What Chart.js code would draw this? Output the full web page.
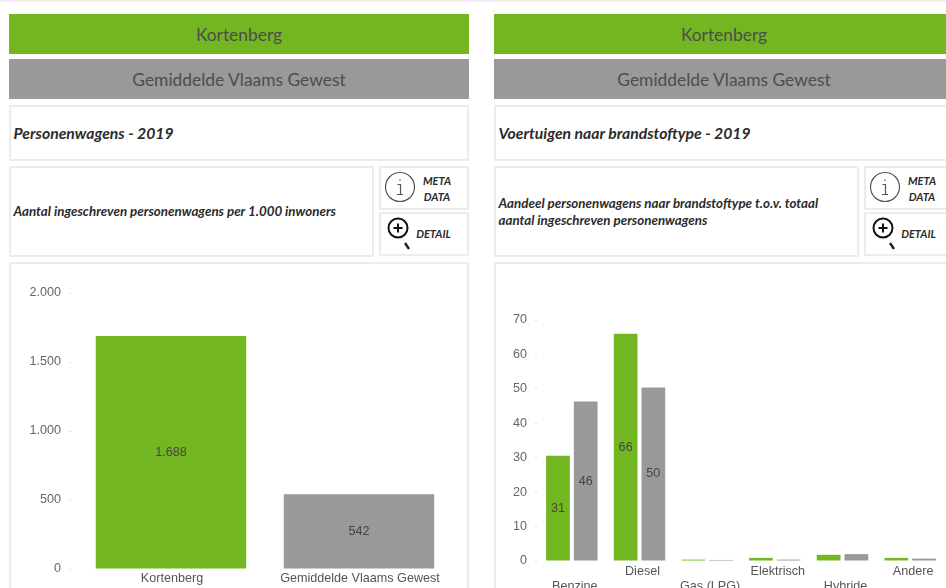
<!DOCTYPE html>
<html><head><meta charset="utf-8">
<script src="https://cdn.jsdelivr.net/npm/chart.js@4"></script>
<style>
html,body{margin:0;padding:0;width:946px;height:588px;overflow:hidden;background:#fff}
#top{position:absolute;left:0;top:0;width:946px;height:2px;background:#eee}
.b{position:absolute;box-sizing:border-box;font-family:Lato,"Open Sans",sans-serif}
.hdr{display:flex;align-items:center;justify-content:center;font-size:17.4px;color:#4d4d4d;height:40px}
.box{border:2px solid #ececec;background:#fff;color:#2b2b2b;font-style:italic;font-weight:700}
.ttl{display:flex;align-items:center;padding-left:2.5px;padding-bottom:2px;font-size:15.75px;height:56px;top:105px}
.dsc{display:flex;align-items:center;padding-left:2.5px;font-size:13.35px;line-height:17px;height:91px;top:166px;width:365px}
.m{font-size:11px;line-height:15.5px;text-align:center}
.m span{position:absolute;width:46px}
svg{position:absolute}
canvas{position:absolute}
</style></head><body>
<div id="top"></div>
<div class="b hdr" style="left:9px;top:14px;width:460px;background:#72b722">Kortenberg</div>
<div class="b hdr" style="left:9px;top:59px;width:460px;background:#999">Gemiddelde Vlaams Gewest</div>
<div class="b box ttl" style="left:9px;width:460px">Personenwagens - 2019</div>
<div class="b box dsc" style="left:9px">Aantal ingeschreven personenwagens per 1.000 inwoners</div>
<div class="b box m" style="left:379px;top:166px;width:90px;height:44px"><svg style="left:3px;top:3px" width="32" height="32"><circle cx="16" cy="16" r="14.5" fill="none" stroke="#555" stroke-width="1.2"/><path d="M16 8.5v1.6M13.5 13.5h3v10M13 23.5h6" fill="none" stroke="#555" stroke-width="1.2"/></svg><span style="left:33px;top:5px">META<br>DATA</span></div>
<div class="b box m" style="left:379px;top:212px;width:90px;height:44px"><svg style="left:5px;top:1px" width="28" height="38"><circle cx="12" cy="13" r="9.5" fill="none" stroke="#111" stroke-width="2"/><path d="M12 8.5v9M7.5 13h9" stroke="#111" stroke-width="2"/><path d="M19 28l4 6" stroke="#222" stroke-width="2.4"/></svg><span style="left:29.5px;top:12px">DETAIL</span></div>
<div class="b box" style="left:9px;top:262px;width:460px;height:340px"></div>
<div class="b hdr" style="left:494px;top:14px;width:460px;background:#72b722">Kortenberg</div>
<div class="b hdr" style="left:494px;top:59px;width:460px;background:#999">Gemiddelde Vlaams Gewest</div>
<div class="b box ttl" style="left:494px;width:460px">Voertuigen naar brandstoftype - 2019</div>
<div class="b box dsc" style="left:494px">Aandeel personenwagens naar brandstoftype t.o.v. totaal<br>aantal ingeschreven personenwagens</div>
<div class="b box m" style="left:864px;top:166px;width:90px;height:44px"><svg style="left:3px;top:3px" width="32" height="32"><circle cx="16" cy="16" r="14.5" fill="none" stroke="#555" stroke-width="1.2"/><path d="M16 8.5v1.6M13.5 13.5h3v10M13 23.5h6" fill="none" stroke="#555" stroke-width="1.2"/></svg><span style="left:33px;top:5px">META<br>DATA</span></div>
<div class="b box m" style="left:864px;top:212px;width:90px;height:44px"><svg style="left:5px;top:1px" width="28" height="38"><circle cx="12" cy="13" r="9.5" fill="none" stroke="#111" stroke-width="2"/><path d="M12 8.5v9M7.5 13h9" stroke="#111" stroke-width="2"/><path d="M19 28l4 6" stroke="#222" stroke-width="2.4"/></svg><span style="left:29.5px;top:12px">DETAIL</span></div>
<div class="b box" style="left:494px;top:262px;width:460px;height:340px"></div>
<canvas id="c1" style="left:11px;top:264px;width:456px;height:336px" width="456" height="336"></canvas>
<canvas id="c2" style="left:496px;top:264px;width:450px;height:336px" width="450" height="336"></canvas>
<script>
const GREEN = '#72b722';
const GREY = '#999999';
const regions = ['Kortenberg', 'Gemiddelde Vlaams Gewest'];
const carValues = [1688, 542];
const carTicks = [0, 500, 1000, 1500, 2000];
const fuels = ['Benzine', 'Diesel', 'Gas (LPG)', 'Elektrisch', 'Hybride', 'Andere'];
const fuelLocal = [30.6, 66, 0.4, 0.9, 1.8, 0.9];
const fuelRegion = [46.3, 50.4, 0.3, 0.4, 2, 0.7];
const fuelTicks = [0, 10, 20, 30, 40, 50, 60, 70];

const fmt = v => String(Math.round(v)).replace(/\B(?=(\d{3})+$)/g, '.');
const font = {family: '"Liberation Sans", Arial, sans-serif', size: 12.6};
const valueLabels = {
  id: 'valueLabels',
  afterDatasetsDraw(chart) {
    const ctx = chart.ctx;
    ctx.save();
    ctx.font = '12.6px "Liberation Sans", Arial, sans-serif';
    ctx.fillStyle = '#444';
    ctx.textAlign = 'center';
    ctx.textBaseline = 'middle';
    chart.data.datasets.forEach((ds, i) => {
      chart.getDatasetMeta(i).data.forEach((el, j) => {
        if (ds.data[j] < 5) return;
        ctx.fillText(fmt(ds.data[j]), el.x, (el.y + el.base) / 2);
      });
    });
    ctx.restore();
  }
};
function yAxis(max, step, ticks, width, tl) {
  return {
    min: 0, max,
    border: {display: false},
    grid: {drawOnChartArea: false, tickLength: tl, tickColor: '#ddd', tickBorderDash: [2, 40]},
    afterBuildTicks(s) { s.ticks = ticks.map(v => ({value: v})); },
    afterFit(s) { s.width = width; },
    ticks: {color: '#666', font, padding: 8, callback: v => fmt(v)}
  };
}
function xAxis(cb, h, pad, off) {
  return {
    border: {display: false},
    grid: {display: false, drawTicks: false},
    afterFit(s) { s.height = h; },
    ticks: {color: '#555', font: {...font, lineHeight: 1.2}, padding: pad, labelOffset: off, autoSkip: false, maxRotation: 0, minRotation: 0, callback: cb}
  };
}
new Chart(document.getElementById('c1'), {
  type: 'bar',
  data: {labels: regions, datasets: [{data: carValues, backgroundColor: [GREEN, GREY], categoryPercentage: 1, barPercentage: 0.8}]},
  options: {
    responsive: false, animation: false,
    layout: {padding: {top: 29, right: 14}},
    plugins: {legend: {display: false}, tooltip: {enabled: false}},
    scales: {x: xAxis(function (v) { return this.getLabelForValue(v); }, 31, 2, 1), y: yAxis(2000, 500, carTicks, 66, 8)}
  },
  plugins: [valueLabels]
});
new Chart(document.getElementById('c2'), {
  type: 'bar',
  data: {labels: fuels, datasets: [
    {data: fuelLocal, backgroundColor: GREEN, categoryPercentage: 0.82, barPercentage: 0.855},
    {data: fuelRegion, backgroundColor: GREY, categoryPercentage: 0.82, barPercentage: 0.855}
  ]},
  options: {
    responsive: false, animation: false,
    layout: {padding: {top: 56, right: 2}},
    plugins: {legend: {display: false}, tooltip: {enabled: false}},
    scales: {
      x: xAxis(function (v, i) { const l = this.getLabelForValue(v); return i % 2 === 0 ? ['', l] : l; }, 39, 3, 3),
      y: yAxis(70, 10, fuelTicks, 42, 3)
    }
  },
  plugins: [valueLabels]
});
</script>
</body></html>
